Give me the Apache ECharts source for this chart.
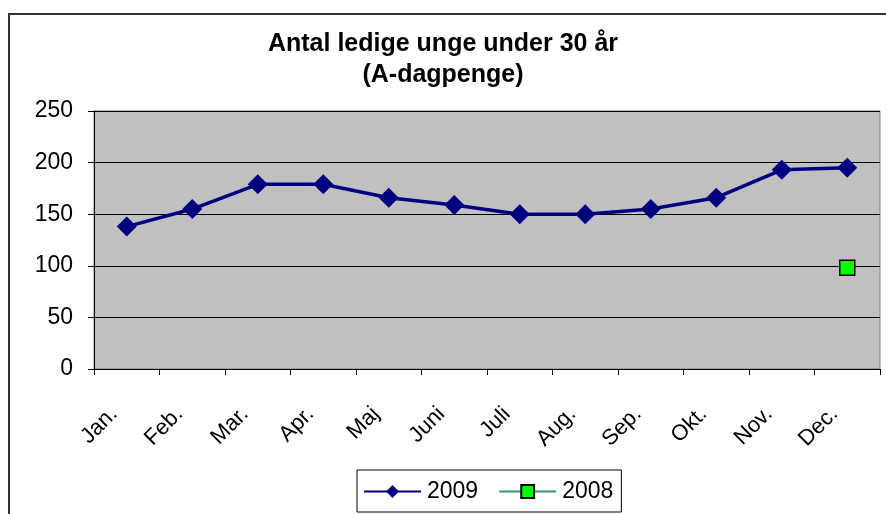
<!DOCTYPE html>
<html>
<head>
<meta charset="utf-8">
<script src="https://cdn.jsdelivr.net/npm/echarts@6/dist/echarts.min.js"></script>
<style>
  html, body { margin: 0; padding: 0; background: #fff; }
  #chart { width: 886px; height: 514px; }
</style>
</head>
<body>
<div id="chart"></div>
<script>
const months = ['Jan.', 'Feb.', 'Mar.', 'Apr.', 'Maj', 'Juni', 'Juli', 'Aug.', 'Sep.', 'Okt.', 'Nov.', 'Dec.']
const values2009 = [138, 155, 179, 179, 166, 159, 150, 150, 155, 166, 193, 195]
const values2008 = [null, null, null, null, null, null, null, null, null, null, null, 98]

const myChart = echarts.init(document.getElementById('chart'))
const font = 'Liberation Sans, Arial, sans-serif'

const option = {
  animation: false,
  backgroundColor: '#fff',
  title: {
    text: 'Antal ledige unge under 30 år\n(A-dagpenge)',
    left: 'center',
    top: 24,
    textStyle: {
      fontFamily: font,
      fontSize: 25,
      fontWeight: 'bold',
      color: '#000',
      lineHeight: 31
    }
  },
  graphic: [{
    // ydre ramme
    type: 'rect',
    shape: { x: 9, y: 14, width: 890, height: 520 },
    style: { fill: null, stroke: '#333', lineWidth: 2 },
    silent: true
  }],
  grid: {
    left: 94,
    right: 6,
    top: 111,
    bottom: 145,
    show: true,
    backgroundColor: '#c0c0c0',
    borderColor: '#808080',
    borderWidth: 1
  },
  legend: {
    bottom: 2,
    left: 357,
    padding: [10, 8, 9, 6],
    borderColor: '#000',
    borderWidth: 1,
    itemWidth: 57,
    itemHeight: 16,
    itemGap: 20,
    textStyle: { fontFamily: font, fontSize: 23, color: '#000', padding: [0, 0, 0, 1] },
    data: ['2009', '2008']
  },
  xAxis: {
    type: 'category',
    data: months,
    boundaryGap: true,
    axisLine: { lineStyle: { color: '#000', width: 1 } },
    axisTick: { show: true, length: 6, lineStyle: { color: '#000' } },
    axisLabel: {
      rotate: 45,
      margin: 29,
      padding: [0, 18, 0, 0],
      fontFamily: font,
      fontSize: 22,
      color: '#000'
    }
  },
  yAxis: {
    type: 'value',
    min: 0,
    max: 250,
    interval: 50,
    axisLine: { show: true, lineStyle: { color: '#000' } },
    axisTick: { show: true, length: 6, lineStyle: { color: '#000' } },
    axisLabel: {
      margin: 21,
      fontFamily: font,
      fontSize: 23,
      color: '#000'
    },
    splitLine: { lineStyle: { color: '#000', width: 1 } }
  },
  series: [
    {
      name: '2009',
      type: 'line',
      data: values2009,
      symbol: 'diamond',
      symbolSize: 20,
      lineStyle: { color: '#000080', width: 3.5 },
      itemStyle: { color: '#000080' }
    },
    {
      name: '2008',
      type: 'line',
      data: values2008,
      symbol: 'rect',
      symbolSize: 15,
      lineStyle: { color: '#339966', width: 1.5 },
      itemStyle: { color: '#00ff00', borderColor: '#000', borderWidth: 1.5 }
    }
  ]
}

myChart.setOption(option)
</script>
</body>
</html>
